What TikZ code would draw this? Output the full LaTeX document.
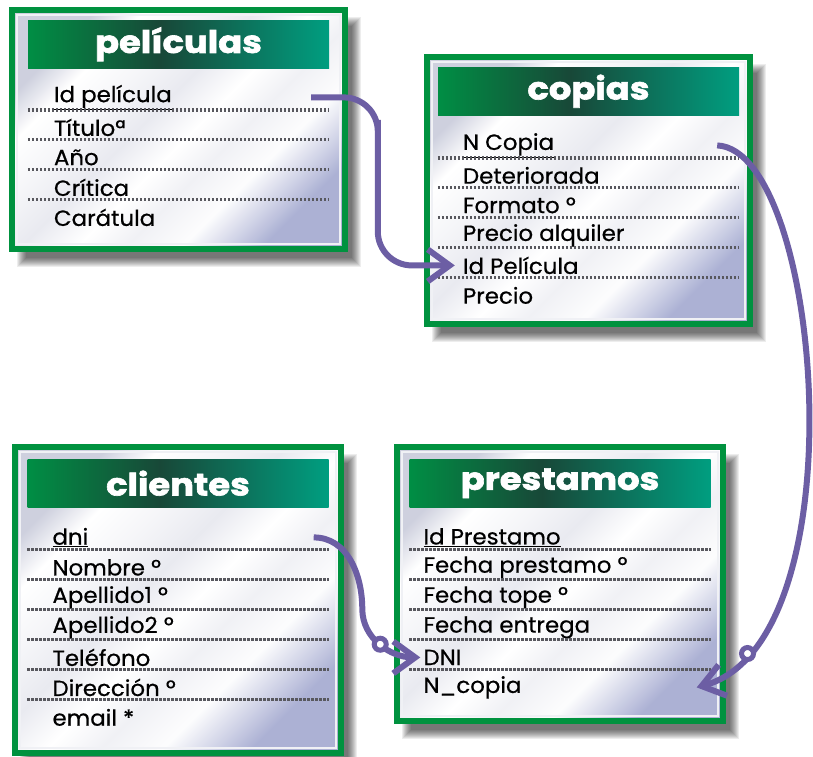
\documentclass[tikz,border=0pt]{standalone}
\usepackage{fontspec}
\setmainfont{Poppins}[FakeBold=0.6,FakeStretch=1.04]
\newfontfamily\titlefont{Poppins Bold}[FakeBold=2,FakeStretch=1.14]
\usetikzlibrary{arrows.meta,positioning,calc,backgrounds}
\definecolor{tblgreen}{RGB}{0,146,63}
\definecolor{hdgreen}{RGB}{0,142,68}
\definecolor{hddark}{RGB}{24,72,56}
\definecolor{hdteal}{RGB}{0,158,128}
\definecolor{linkcolor}{RGB}{108,94,164}
\definecolor{rowgray}{RGB}{88,88,94}
\definecolor{metalA}{RGB}{206,208,222}
\definecolor{metalB}{RGB}{172,177,212}
\pgfdeclarehorizontalshading{metal}{100bp}{%
  color(0bp)=(metalA); color(25bp)=(metalA); color(31bp)=(white);
  color(38bp)=(white!80!metalA); color(45bp)=(white!55!metalA);
  color(52bp)=(white); color(58bp)=(white!70!metalA); color(65bp)=(white!95!metalA);
  color(71bp)=(white!40!metalB); color(75bp)=(metalB); color(100bp)=(metalB)}
\pgfdeclarehorizontalshading{hdshade}{100bp}{%
  color(0bp)=(hdgreen); color(25bp)=(hdgreen); color(47bp)=(hddark);
  color(75bp)=(hdteal); color(100bp)=(hdteal)}
\tikzset{
  tbl/.style     = {draw=tblgreen,line width=6pt,shade,shading=metal,
                    shading angle=-45,inner sep=0pt,outer sep=0pt,
                    anchor=north west},
  tblhead/.style = {shade,shading=hdshade,minimum width=301pt,
                    minimum height=48pt,text=white,anchor=north,
                    font=\fontsize{31}{31}\titlefont},
  field/.style   = {anchor=west,inner sep=0pt,minimum height=24pt,
                    font=\fontsize{22}{24}\selectfont},
  rowline/.style = {draw=rowgray,line width=3.5pt,
                    dash pattern=on 2.5pt off 1.5pt},
  link/.style    = {draw=linkcolor,line width=6pt,
                    -{Straight Barb[length=22pt,width=32pt]}},
  ring/.style    = {circle,draw=linkcolor,fill=white,line width=5pt,
                    inner sep=0pt,minimum size=12pt},
}

\begin{document}
\begin{tikzpicture}[x=1pt,y=-1pt]
  \useasboundingbox (0,0) rectangle (813,756);

  % tablas
  \node[tbl,minimum width=333pt,minimum height=239pt] (pel) at (12,10) {};
  \node[tbl,minimum width=323pt,minimum height=267pt] (cop) at (427,57) {};
  \node[tbl,minimum width=326pt,minimum height=306pt] (cli) at (15,447) {};
  \node[tbl,minimum width=326pt,minimum height=274pt] (pre) at (397,447) {};
  \foreach \t in {pel,cop,cli,pre}
    \draw[white!70!metalA,line width=1.5pt]
      ($(\t.north west)+(5,5)$) rectangle ($(\t.south east)+(-5,-5)$);

  \node[tblhead,below=10pt of pel.north] (pel-h) {películas};
  \node[tblhead,below=10pt of cop.north] (cop-h) {copias};
  \node[tblhead,below=12pt of cli.north] (cli-h) {clientes};
  \node[tblhead,below=12pt of pre.north] (pre-h) {prestamos};

  % campos
  \foreach \lab [count=\i] in {\underline{Id película},Títuloª,Año,Crítica,Carátula}
    \node[field] (pel-\i) at ($(pel-h.south west)+(26,{29+30*(\i-1)})$) {\lab};
  \foreach \lab [count=\i] in {\underline{N Copia},Deteriorada,Formato º,
      Precio alquiler,Id Película,Precio}
    \node[field] (cop-\i) at ($(cop-h.south west)+(25,{30+30*(\i-1)})$) {\lab};
  \foreach \lab [count=\i] in {\underline{dni},Nombre º,Apellido1 º,Apellido2 º,
      Teléfono,Dirección º,email *}
    \node[field] (cli-\i) at ($(cli-h.south west)+(25,{30+30*(\i-1)})$) {\lab};
  \foreach \lab [count=\i] in {\underline{Id Prestamo},Fecha prestamo º,
      Fecha tope º,Fecha entrega,DNI,N\_copia}
    \node[field] (pre-\i) at ($(pre-h.south west)+(14,{30+30*(\i-1)})$) {\lab};

  \foreach \t/\n in {pel/4,cop/5,cli/6,pre/5}
    \foreach \i in {1,...,\n}
      \draw[rowline] (\t-h.west |- \t-\i.south) -- (\t-h.east |- \t-\i.south);

  % sombras
  \begin{scope}[on background layer]
    \fill[white] (0,0) rectangle (813,756);
    \foreach \t in {pel,cop,cli,pre}
      \foreach \k in {0,...,9}
        \fill[black,opacity=0.07] ($(\t.north west)+(5+\k,7+\k)$)
          rectangle ($(\t.south east)+(16-\k,18-\k)$);
  \end{scope}

  % relaciones
  \coordinate (pel-out) at ($(pel-h.east |- pel-1)+(-18,0)$);
  \coordinate (cli-out) at ($(cli-h.east |- cli-1)+(-15,0)$);
  \coordinate (cop-out) at ($(cop-h.east |- cop-1)+(-22,0)$);
  \coordinate (cli-bend) at ($(cli.east)!0.38!(pre.west)+(0,15)$);
  \coordinate (pre-in) at ($(pre-h.east |- pre-6)+(-14,0)$);

  \draw[link,rounded corners=34pt] (pel-out)
    -| ($(pel.east)!0.4!(cop.west)$) |- ($(cop-5.west)+(-8,0)$);
  \draw[link] (cli-out) to[out=0,in=90] (cli-bend)
    to[out=-90,in=180] node[ring]{} ($(pre-5.west)+(-3,0)$);
  \draw[link] (cop-out) .. controls ($(cop-out)+(105,5)$)
    and ($(pre-in)+(165,-45)$) .. (pre-in) node[ring,pos=0.88]{};
\end{tikzpicture}
\end{document}
